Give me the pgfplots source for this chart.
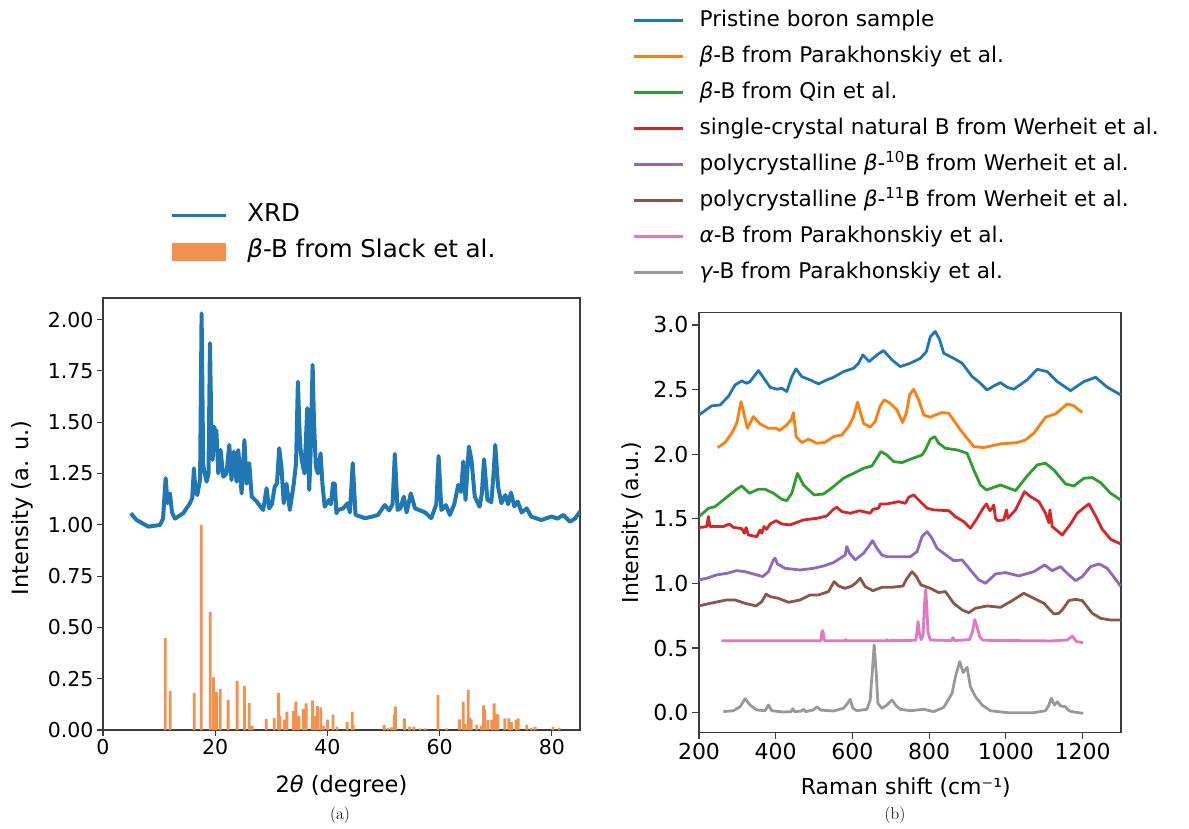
\documentclass[border=0pt]{standalone}
\usepackage{fontspec}
\setsansfont{DejaVu Sans}
\usepackage{pgfplots}
\pgfplotsset{compat=1.18}
\definecolor{tblue}{HTML}{1F77B4}
\definecolor{torange}{HTML}{FF7F0E}
\definecolor{barorange}{HTML}{F3924F}
\definecolor{tgreen}{HTML}{2CA02C}
\definecolor{tred}{HTML}{D62728}
\definecolor{tpurple}{HTML}{9467BD}
\definecolor{tbrown}{HTML}{8C564B}
\definecolor{tpink}{HTML}{E377C2}
\definecolor{tgray}{HTML}{999999}
\definecolor{spine}{HTML}{3C3C3C}
\begin{document}
\begin{tikzpicture}[x=1pt,y=1pt,font=\sffamily]
\path[use as bounding box] (0,0) rectangle (1189,828);
% ---------------- (a) XRD ----------------
\begin{axis}[
  at={(103pt,98pt)}, anchor=south west, scale only axis,
  width=477pt, height=432pt,
  xmin=0, xmax=85, ymin=0, ymax=2.105,
  xtick={0,20,40,60,80},
  ytick={0,0.25,0.5,0.75,1,1.25,1.5,1.75,2},
  yticklabel style={/pgf/number format/.cd,fixed,fixed zerofill,precision=2},
  /pgf/number format/assume math mode=true,
  tick align=outside, major tick length=6pt,
  xtick pos=bottom, ytick pos=left,
  tick style={spine,line width=1.1pt},
  axis line style={spine,line width=1.2pt},
  tick label style={font=\sffamily\fontsize{20.5}{24}\selectfont},
  every axis x label/.style={at={(axis description cs:0.5,-0.13)},anchor=center,font=\sffamily\fontsize{22.5}{26}\selectfont},
  every axis y label/.style={at={(axis description cs:-0.1686,0.514)},rotate=90,anchor=center,font=\sffamily\fontsize{22.5}{26}\selectfont},
  xlabel={2{\itshape θ} (degree)},
  ylabel={Intensity (a. u.)},
  legend style={at={(axis description cs:0.142,1.228)},anchor=north west,draw=none,fill=none,
    inner sep=0pt,outer sep=0pt,font=\sffamily\fontsize{24.5}{28}\selectfont,row sep=4pt,column sep=16pt,
    nodes={text height=18pt,text depth=6pt,inner xsep=4pt,inner ysep=4pt}},
  legend cell align=left,
]
\addplot[color=tblue, line width=4pt, line join=round,
  legend image code/.code={\draw[tblue,line width=2.7pt] (0pt,0pt) -- (54pt,0pt);}]
coordinates {
(4.93,1.056) (6.0,1.023) (8.07,0.991) (10.15,0.999) (10.7,1.03) (11.16,1.227) (11.5,1.105) (11.93,1.153) (12.3,1.06) (12.82,1.03) (14.3,1.056) (15.5,1.105) (15.9,1.13) (16.2,1.275) (16.5,1.16) (16.8,1.145) (17.3,1.22) (17.57,2.03) (17.85,1.30) (17.99,1.267) (18.46,1.21) (18.8,1.25) (19.06,1.885) (19.35,1.40) (19.53,1.316) (19.83,1.478) (20.05,1.42) (20.2,1.46) (20.54,1.251) (20.95,1.365) (21.43,1.234) (22.0,1.25) (22.5,1.389) (22.9,1.218) (23.3,1.356) (23.8,1.21) (24.1,1.364) (24.7,1.153) (25.2,1.413) (25.6,1.20) (26.06,1.30) (26.5,1.137) (27.4,1.113) (28.0,1.09) (28.55,1.072) (29.15,1.178) (29.6,1.08) (30.1,1.10) (30.6,1.186) (31.0,1.20) (31.4,1.373) (31.8,1.283) (32.2,1.105) (32.7,1.20) (33.3,1.072) (34.0,1.202) (34.4,1.30) (34.73,1.697) (35.1,1.40) (35.4,1.316) (35.9,1.25) (36.4,1.568) (36.75,1.17) (37.0,1.35) (37.35,1.779) (37.6,1.50) (37.93,1.283) (38.3,1.25) (38.77,1.348) (39.1,1.20) (39.5,1.088) (40.2,1.12) (40.6,1.10) (41.0,1.202) (41.3,1.20) (41.6,1.056) (41.9,1.072) (42.8,1.08) (43.6,1.105) (44.0,1.06) (44.5,1.30) (45.0,1.048) (46.7,1.032) (48.0,1.04) (49.0,1.048) (50.2,1.096) (51.0,1.07) (51.6,1.10) (52.0,1.345) (52.5,1.072) (53.0,1.08) (53.6,1.137) (54.1,1.06) (54.85,1.153) (55.6,1.08) (56.5,1.07) (57.4,1.06) (58.5,1.032) (59.4,1.10) (59.8,1.335) (60.3,1.072) (61.1,1.096) (61.8,1.048) (62.6,1.10) (63.3,1.194) (63.8,1.16) (64.2,1.308) (64.6,1.121) (65.2,1.381) (65.66,1.316) (66.25,1.137) (67.1,1.088) (67.5,1.15) (67.9,1.319) (68.5,1.121) (69.2,1.11) (69.6,1.25) (69.9,1.389) (70.4,1.186) (71.0,1.105) (71.7,1.145) (72.2,1.10) (72.7,1.157) (73.3,1.09) (73.9,1.113) (74.6,1.06) (75.5,1.08) (76.3,1.04) (78.1,1.023) (79.9,1.04) (81.0,1.03) (82.0,1.048) (83.2,1.015) (84.1,1.03) (85,1.064)
};
\addlegendentry{XRD}
\addplot[ybar, bar width=0.5, bar shift=0pt, fill=barorange, draw=none,
  legend image code/.code={\fill[barorange] (0pt,-9pt) rectangle (54pt,9pt);}]
coordinates {
(11.1,0.448) (12.0,0.19) (16.27,0.18) (17.51,1.0) (19.1,0.575) (19.7,0.257) (20.2,0.185) (20.9,0.2) (22.3,0.146) (23.9,0.239) (25.2,0.214) (26.05,0.131) (26.6,0.02) (29.1,0.054) (30.5,0.058) (31.3,0.18) (31.55,0.068) (32.3,0.05) (32.77,0.088) (33.9,0.092) (34.37,0.138) (34.9,0.068) (35.7,0.102) (36.2,0.13) (37.35,0.143) (37.8,0.068) (38.2,0.117) (38.8,0.11) (39.3,0.02) (40.0,0.05) (41.0,0.075) (41.7,0.015) (43.5,0.039) (44.4,0.088) (44.6,0.025) (50.1,0.024) (50.8,0.012) (51.4,0.013) (51.9,0.075) (52.1,0.114) (53.7,0.057) (54.6,0.016) (55.4,0.016) (56.5,0.008) (57.4,0.008) (59.7,0.17) (61.2,0.008) (63.5,0.052) (64.2,0.138) (64.5,0.03) (65.1,0.195) (65.4,0.06) (65.6,0.05) (66.6,0.025) (67.4,0.02) (67.8,0.12) (68.0,0.10) (68.6,0.048) (69.3,0.05) (69.7,0.13) (70.05,0.08) (70.4,0.075) (71.6,0.057) (72.3,0.057) (72.8,0.04) (73.6,0.05) (74.0,0.057) (75.5,0.024) (76.3,0.01) (77.0,0.015) (80.2,0.015) (81.3,0.01)
};
\addlegendentry{{\itshape β}-B from Slack et al.}
\end{axis}
% ---------------- (b) Raman ----------------
\begin{axis}[
  at={(699pt,95.7pt)}, anchor=south west, scale only axis,
  width=422pt, height=419.6pt,
  xmin=200, xmax=1300, ymin=-0.152, ymax=3.095,
  xtick={200,400,600,800,1000,1200},
  ytick={0,0.5,1,1.5,2,2.5,3},
  xticklabel style={/pgf/number format/.cd,1000 sep={}},
  yticklabel style={/pgf/number format/.cd,fixed,fixed zerofill,precision=1},
  /pgf/number format/assume math mode=true,
  tick align=outside, major tick length=7pt,
  xtick pos=bottom, ytick pos=left,
  tick style={spine,line width=1.1pt},
  axis line style={spine,line width=1.2pt},
  tick label style={font=\sffamily\fontsize{22}{26}\selectfont},
  every axis x label/.style={at={(axis description cs:0.49,-0.1325)},anchor=center,font=\sffamily\fontsize{22}{26}\selectfont},
  every axis y label/.style={at={(axis description cs:-0.157,0.5)},rotate=90,anchor=center,font=\sffamily\fontsize{22}{26}\selectfont},
  xlabel={Raman shift (cm⁻¹)},
  ylabel={Intensity (a.u.)},
  legend style={at={(axis description cs:-0.1564,1.7309)},anchor=north west,draw=none,fill=none,
    inner sep=0pt,outer sep=0pt,font=\sffamily\fontsize{21.6}{26}\selectfont,row sep=7pt,column sep=11pt,
    nodes={text height=16pt,text depth=5pt,inner xsep=4pt,inner ysep=4pt}},
  legend cell align=left,
  legend image code/.code={\draw[#1,line width=2.7pt] (0pt,0pt) -- (49pt,0pt);},
  every axis plot/.append style={line width=2.8pt, line join=round},
]
\addplot[color=tblue] coordinates {
(200,2.304) (233,2.374) (255,2.381) (276.5,2.446) (294,2.536) (311.4,2.567) (324.4,2.549) (333,2.562) (355,2.647) (385.3,2.518) (402.7,2.503) (415.8,2.51) (428.8,2.485) (442,2.60) (453,2.66) (468,2.60) (489.7,2.575) (511.5,2.544) (533,2.575) (550.6,2.595) (576.7,2.639) (602.8,2.665) (616,2.704) (627,2.768) (643.7,2.717) (663.7,2.768) (681,2.802) (703,2.730) (724.6,2.678) (750.8,2.704) (777,2.742) (792.7,2.794) (803.1,2.910) (816.2,2.949) (827.5,2.884) (837.9,2.781) (864,2.742) (885.8,2.704) (911.9,2.601) (933.6,2.549) (951,2.497) (968.4,2.528) (985.8,2.554) (1003.2,2.518) (1020.6,2.503) (1055.4,2.575) (1081.5,2.657) (1107.6,2.639) (1133.7,2.562) (1168.5,2.492) (1203.3,2.562) (1233.8,2.595) (1264.2,2.518) (1299,2.459)
};
\addlegendentry{Pristine boron sample}
\addplot[color=torange] coordinates {
(248.7,2.051) (267.9,2.09) (285.3,2.162) (298.3,2.239) (309.6,2.407) (315.7,2.33) (326.1,2.201) (341.8,2.291) (359.2,2.234) (381,2.201) (401,2.201) (409.7,2.183) (428.8,2.227) (440.1,2.265) (446.2,2.322) (453.2,2.136) (468,2.09) (485.4,2.116) (507.1,2.085) (528.9,2.092) (550.6,2.136) (572.4,2.149) (589.8,2.214) (602.8,2.291) (613.2,2.402) (628.9,2.239) (646.3,2.209) (659.2,2.252) (672.4,2.374) (682.8,2.42) (698.5,2.394) (715.9,2.343) (731,2.245) (740.3,2.317) (749,2.459) (759.6,2.503) (772.7,2.42) (785.7,2.304) (803.1,2.286) (816.2,2.304) (833.6,2.322) (851,2.317) (881.4,2.188) (916.2,2.059) (942.3,2.051) (985.8,2.08) (1029.3,2.09) (1051,2.11) (1072.8,2.162) (1103.3,2.286) (1129.4,2.312) (1159.8,2.389) (1177.2,2.374) (1199,2.322)
};
\addlegendentry{{\itshape β}-B from Parakhonskiy et al.}
\addplot[color=tgreen] coordinates {
(200,1.517) (224.4,1.581) (241.8,1.594) (272.2,1.667) (298.3,1.729) (311.4,1.754) (331.4,1.698) (354.9,1.729) (372.3,1.729) (394,1.698) (415.8,1.651) (428.8,1.641) (441.9,1.698) (456.6,1.852) (472.3,1.762) (500.1,1.685) (524.5,1.692) (550.6,1.749) (576.7,1.814) (602.8,1.852) (628.9,1.891) (650.7,1.909) (674.1,2.02) (689.8,1.994) (707.2,1.943) (729,1.935) (750.8,1.961) (781.4,1.994) (790,2.033) (803.1,2.116) (814.4,2.136) (824.8,2.085) (842.2,2.046) (872.7,2.033) (898.8,2.007) (916.2,1.878) (933.6,1.762) (949.3,1.723) (985.8,1.762) (1025,1.718) (1055.4,1.832) (1081.5,1.917) (1103.3,1.93) (1125,1.878) (1155.5,1.77) (1177.2,1.754) (1203.3,1.814) (1225,1.819) (1246.8,1.78) (1272.9,1.698) (1299,1.646)
};
\addlegendentry{{\itshape β}-B from Qin et al.}
\addplot[color=tred] coordinates {
(200,1.432) (220,1.44) (224.4,1.517) (228.7,1.44) (263.5,1.44) (279.2,1.46) (289.6,1.434) (311.4,1.424) (318.3,1.388) (322.7,1.432) (328.8,1.375) (350.5,1.362) (359.2,1.414) (363.6,1.388) (369.6,1.44) (376.6,1.419) (385.3,1.46) (401,1.486) (415.8,1.46) (437.5,1.453) (472.3,1.491) (507.1,1.504) (533,1.522) (550.6,1.574) (559.3,1.589) (572.4,1.556) (594.1,1.543) (618.5,1.563) (646.3,1.543) (653.3,1.574) (668.1,1.582) (672.4,1.615) (689.8,1.615) (720.3,1.633) (737.9,1.62) (746.6,1.667) (759.6,1.685) (777,1.633) (794.4,1.582) (811.8,1.569) (851,1.563) (868.4,1.517) (890.1,1.478) (907.5,1.427) (924.9,1.504) (940.6,1.582) (949.3,1.615) (958,1.563) (964.1,1.582) (968.4,1.607) (972.8,1.504) (978.8,1.486) (994.5,1.491) (1001.5,1.569) (1005,1.504) (1025,1.569) (1048.4,1.71) (1064.1,1.672) (1085.9,1.633) (1103.3,1.543) (1112,1.47) (1114.6,1.569) (1120.7,1.44) (1146.8,1.375) (1168.5,1.46) (1185.9,1.543) (1201.6,1.582) (1216.4,1.615) (1233.8,1.522) (1251.2,1.419) (1272.9,1.342) (1299,1.306)
};
\addlegendentry{single-crystal natural B from Werheit et al.}
\addplot[color=tpurple] coordinates {
(200,1.027) (220,1.04) (246.1,1.066) (272.2,1.078) (298.3,1.099) (320.1,1.091) (341.8,1.073) (366.2,1.053) (381,1.091) (394,1.182) (398.4,1.195) (404.4,1.151) (424.5,1.117) (463.6,1.104) (498.4,1.117) (524.5,1.135) (550.6,1.161) (568,1.195) (581,1.22) (585.4,1.285) (592.4,1.233) (607.2,1.182) (628.9,1.233) (642,1.285) (652.4,1.331) (663.7,1.272) (676.8,1.22) (689.8,1.207) (750.8,1.207) (768.3,1.246) (781.4,1.362) (794.4,1.401) (807.5,1.349) (820.5,1.272) (837.9,1.233) (864,1.176) (885.8,1.182) (907.5,1.104) (929.3,1.027) (946.7,1.001) (972.8,1.073) (998.9,1.084) (1033.7,1.058) (1072.8,1.091) (1100.6,1.143) (1120.7,1.099) (1142.4,1.13) (1164.2,1.066) (1181.6,1.022) (1199,1.053) (1220.7,1.13) (1242.5,1.151) (1264.2,1.117) (1299,0.98)
};
\addlegendentry{polycrystalline {\itshape β}-\textsuperscript{10}B from Werheit et al.}
\addplot[color=tbrown] coordinates {
(200,0.826) (228.7,0.846) (272.2,0.872) (294,0.872) (320.1,0.846) (348.8,0.826) (363.6,0.859) (374.9,0.918) (385.3,0.898) (407.1,0.885) (433.2,0.854) (463.6,0.872) (489.7,0.911) (511.5,0.911) (537.6,0.937) (552.3,1.014) (563.7,0.98) (581,0.962) (598.5,0.98) (609.8,1.006) (620.2,1.04) (633.3,0.975) (653.3,0.944) (676.8,0.97) (703,0.97) (731.6,0.98) (740,1.03) (755.3,1.091) (766.6,1.053) (778.7,0.988) (803.1,0.962) (824.8,0.929) (842.2,0.937) (864,0.846) (885.8,0.795) (903.2,0.774) (920.5,0.808) (951,0.826) (985.8,0.815) (1011.9,0.859) (1046.7,0.924) (1072.8,0.885) (1098.9,0.846) (1125,0.764) (1138.1,0.769) (1146.8,0.795) (1164.2,0.867) (1181.6,0.877) (1199,0.867) (1225,0.769) (1246.8,0.73) (1272.9,0.717) (1299,0.717)
};
\addlegendentry{polycrystalline {\itshape β}-\textsuperscript{11}B from Werheit et al.}
\addplot[color=tpink] coordinates {
(258,0.557) (518,0.557) (520,0.62) (522.5,0.635) (525,0.6) (527,0.557) (580,0.557) (582,0.565) (584,0.557) (688,0.557) (690,0.565) (692,0.557) (765,0.56) (768,0.62) (771,0.705) (774,0.62) (779,0.565) (784,0.6) (788,0.85) (791,0.952) (794,0.8) (797,0.62) (803,0.562) (858,0.558) (862,0.58) (866,0.558) (905,0.565) (913,0.63) (919,0.72) (925,0.66) (932,0.585) (940,0.56) (1116,0.555) (1160,0.562) (1173,0.593) (1184,0.55) (1201,0.542)
};
\addlegendentry{{\itshape α}-B from Parakhonskiy et al.}
\addplot[color=tgray] coordinates {
(263.5,0.008) (289.6,0.015) (307,0.046) (320.1,0.108) (333.1,0.059) (350.5,0.021) (372.3,0.015) (381,0.059) (389.7,0.015) (420.1,0.005) (440,0.008) (444.5,0.031) (449,0.008) (466,0.012) (472.3,0.026) (478,0.008) (498.4,0.021) (507.1,0.046) (517,0.02) (550.6,0.013) (576.7,0.034) (587.1,0.072) (594.1,0.103) (601,0.034) (611.5,0.015) (637.6,0.026) (646.3,0.098) (650.7,0.279) (656.7,0.524) (662,0.305) (666.3,0.072) (676.8,0.034) (689.8,0.059) (703,0.098) (714.2,0.052) (724.7,0.026) (750.8,0.015) (785.7,0.026) (811.8,0.008) (837.9,0.041) (859.7,0.15) (868.4,0.279) (879.7,0.395) (888.4,0.31) (898.8,0.351) (907.5,0.201) (920.5,0.124) (938,0.059) (959.7,0.015) (1003.2,0) (1072.8,0) (1103.3,0.015) (1112,0.059) (1118.1,0.111) (1126.7,0.059) (1133.7,0.085) (1142.4,0.052) (1155.5,0.046) (1164.2,0.015) (1177.2,0.005) (1201.6,-0.005)
};
\addlegendentry{{\itshape γ}-B from Parakhonskiy et al.}
\end{axis}
\node[font=\rmfamily\fontsize{17}{20}\selectfont] at (340,13) {(a)};
\node[font=\rmfamily\fontsize{17}{20}\selectfont] at (895,13) {(b)};
\end{tikzpicture}
\end{document}
